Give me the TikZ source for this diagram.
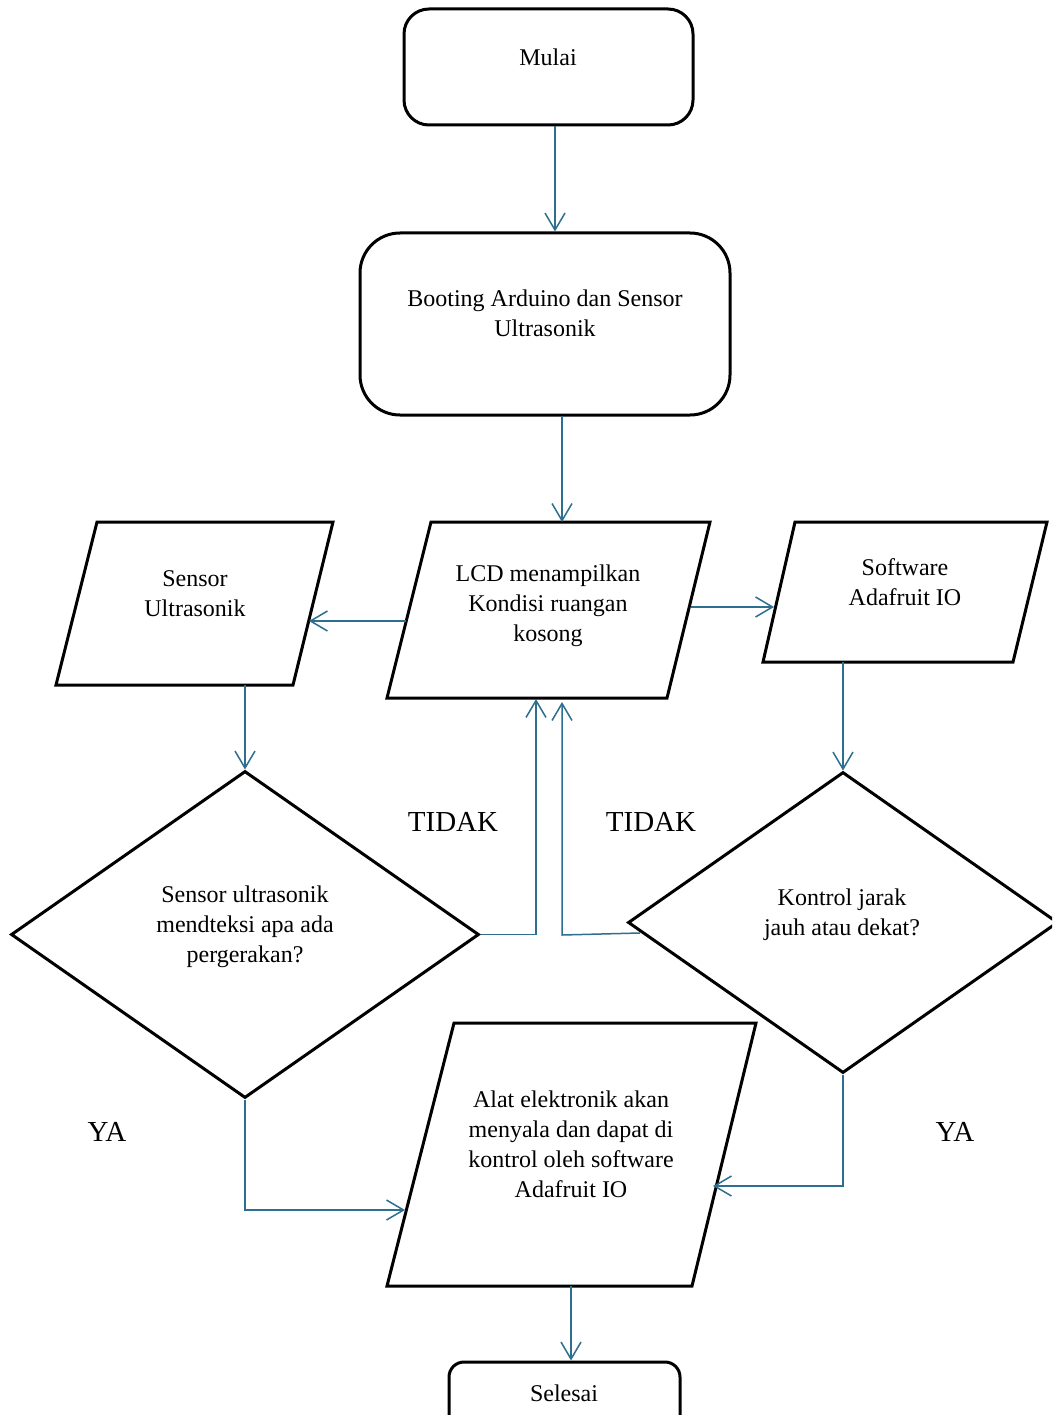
\documentclass[tikz,border=0pt]{standalone}
\usepackage{fontspec}
\setmainfont{Liberation Serif}
\usetikzlibrary{arrows.meta,shapes.geometric}
\definecolor{conn}{RGB}{46,110,142}
\begin{document}
\begin{tikzpicture}[x=1pt,y=-1pt,
  box/.style={draw=black,line width=3pt,fill=white,inner sep=0pt},
  shp/.style={draw=black,line width=3pt,line join=miter},
  dia/.style={diamond,draw=black,line width=3pt,inner sep=0pt},
  txt/.style={align=center,inner sep=0pt,font=\fontsize{24}{30}\selectfont},
  lbl/.style={inner sep=0pt,font=\fontsize{29}{34}\selectfont},
  arr/.style={draw=conn,line width=1.5pt,-{Straight Barb[length=17pt,width=20pt,line width=1.5pt]}}]
\clip (0,0) rectangle (1052,1415);
\fill[white] (0,0) rectangle (1052,1415);

% terminals / process boxes
\node[box,rounded corners=25pt,minimum width=289pt,minimum height=116pt] (mulai) at (548.5,67) {};
\node[txt] (mulaiT) at (548,57) {Mulai};
\node[box,rounded corners=40pt,minimum width=370pt,minimum height=182pt] (boot) at (545,324) {};
\node[txt] (bootT) at (545,313) {Booting Arduino dan Sensor\\Ultrasonik};

% parallelograms
\coordinate (l1) at (431,522); \coordinate (l2) at (710,522);
\coordinate (l3) at (667,698); \coordinate (l4) at (387,698);
\draw[shp] (l1) -- (l2) -- (l3) -- (l4) -- cycle;
\node[txt] (lcdT) at (548,606) {LCD menampilkan\\Kondisi ruangan\\kosong};

\coordinate (s1) at (97,522); \coordinate (s2) at (333,522);
\coordinate (s3) at (293,685); \coordinate (s4) at (56,685);
\draw[shp] (s1) -- (s2) -- (s3) -- (s4) -- cycle;
\node[txt] (senT) at (195,594) {Sensor\\Ultrasonik};

\coordinate (w1) at (795,522); \coordinate (w2) at (1047,522);
\coordinate (w3) at (1013,662); \coordinate (w4) at (763,662);
\draw[shp] (w1) -- (w2) -- (w3) -- (w4) -- cycle;
\node[txt] (swT) at (905,582) {Software\\Adafruit IO};

\coordinate (a1) at (454,1023); \coordinate (a2) at (756,1023);
\coordinate (a3) at (692,1286); \coordinate (a4) at (387,1286);
\draw[shp] (a1) -- (a2) -- (a3) -- (a4) -- cycle;
\node[txt] (alatT) at (571,1144) {Alat elektronik akan\\menyala dan dapat di\\kontrol oleh software\\Adafruit IO};

% decisions
\node[dia,minimum width=468pt,minimum height=327pt] (ld) at (245,934.5) {};
\node[txt] (ldT) at (245,927) {Sensor ultrasonik\\mendteksi apa ada\\pergerakan?};
\node[dia,minimum width=430pt,minimum height=301pt] (rd) at (843,922.5) {};
\node[txt] (rdT) at (842,915) {Kontrol jarak\\jauh atau dekat?};

% end
\node[box,rounded corners=15pt,minimum width=231pt,minimum height=72pt] (sel) at (564.5,1398) {};
\node[txt] (selT) at (564,1393) {Selesai};

% labels
\node[lbl] (t1) at (453,822) {TIDAK};
\node[lbl] (t2) at (651,822) {TIDAK};
\node[lbl] (y1) at (107,1132) {YA};
\node[lbl] (y2) at (955,1132) {YA};

% connector end points
\coordinate (lcdW) at (406,621);
\coordinate (senE) at (309,621);
\coordinate (lcdE) at (691,607);
\coordinate (swW) at (774,607);
\coordinate (lcdB1) at (536,699);
\coordinate (lcdB2) at (562,702);
\coordinate (rdW) at (640,933);
\coordinate (rdC) at (562,935);
\coordinate (alatW) at (405,1210);
\coordinate (alatE) at (713,1186);
\coordinate (alatB) at (571,1286);

% connectors
\draw[arr] ([xshift=6.5pt]mulai.south) -- ([xshift=10pt]boot.north);
\draw[arr] ([xshift=16pt]boot.south) -- (boot.south -| lcdB2) -- (lcdB2 |- l1);
\draw[arr] (lcdW) -- (senE);
\draw[arr] (lcdE) -- (swW);
\draw[arr] (s4 -| ld.north) -- (ld.north);
\draw[arr] (w4 -| rd.north) -- (rd.north);
\draw[arr] (ld.east) -- (ld.east -| lcdB1) -- (lcdB1);
\draw[arr] (rdW) -- (rdC) -- (lcdB2);
\draw[arr] (ld.south) -- (ld.south |- alatW) -- (alatW);
\draw[arr] (rd.south) -- (rd.south |- alatE) -- (alatE);
\draw[arr] (alatB) -- (alatB |- sel.north);
\end{tikzpicture}
\end{document}
